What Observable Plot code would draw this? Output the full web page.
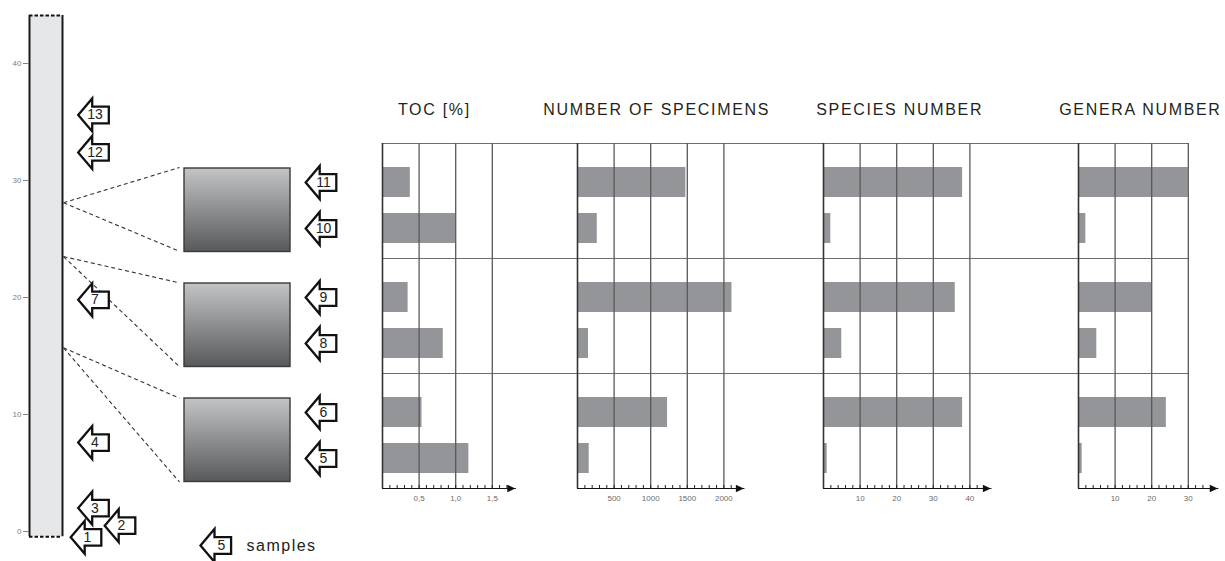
<!DOCTYPE html>
<html>
<head>
<meta charset="utf-8">
<script src="https://cdn.jsdelivr.net/npm/d3@7"></script>
<script src="https://cdn.jsdelivr.net/npm/@observablehq/plot@0.6"></script>
<style>
  html, body { margin: 0; padding: 0; background: #fff; }
  #figure { position: relative; width: 1225px; height: 561px; overflow: hidden; }
  #figure svg { position: absolute; }
</style>
</head>
<body>
<div id="figure"></div>
<script>
// ---------- data ----------
// borehole log: depth axis (m) and the logged section
const depthTicks = [0, 10, 20, 30, 40];
const columnDepths = [-0.45, 44.1];

// samples marked along the log
const loggedSamples = ["13", "12", "7", "4", "3", "2", "1"];
const loggedDepths = [35.6, 32.4, 19.8, 7.6, 2.0, 0.5, -0.5];

// enlarged intervals and where they sit in the log (m)
const intervals = ["top", "middle", "bottom"];
const intervalDepths = [28.1, 23.5, 15.7];

// studied samples, top to bottom, and the interval each comes from
const studiedSamples = ["11", "10", "9", "8", "6", "5"];
const studiedIntervals = ["top", "top", "middle", "middle", "bottom", "bottom"];

// measured parameters per studied sample
const panelTitles = ["TOC [%]", "NUMBER OF SPECIMENS", "SPECIES NUMBER", "GENERA NUMBER"];
const tocValues = [0.38, 1.0, 0.35, 0.83, 0.54, 1.18];
const specimenValues = [1480, 270, 2110, 150, 1230, 160];
const speciesValues = [38, 2, 36, 5, 38, 1];
const generaValues = [30, 2, 20, 5, 24, 1];

// axis ticks per panel
const tocTicks = [0.5, 1.0, 1.5];
const specimenTicks = [500, 1000, 1500, 2000];
const speciesTicks = [10, 20, 30, 40];
const generaTicks = [10, 20, 30];

// legend
const legendSample = "5";
const legendText = "samples";

// ---------- layout ----------
const layout = {
  height: 561,
  frameTop: 142,
  axisLine: 488,
  depthRange: [531, 63],          // pixel rows of depth 0 and 40
  column: [29, 62],
  loggedLane: 93,
  loggedShift: {"1": -7.5, "2": 26.5},
  box: [184, 290],
  boxInset: [25, 6.5],
  linkEnd: 179,
  pointerLane: 320.5,
  panelLeft: [382, 577, 823, 1078],
  gridStep: 36.6,
  arrowOvershoot: [23, 20, 21, 29.5],
  titleShift: [-3, 6, 3, 7],
  titleRise: 40
};

const font = '"Liberation Sans", Arial, Helvetica, sans-serif';
const figure = document.getElementById("figure");
function place(svg, left, top) {
  svg.style.left = left + "px";
  svg.style.top = top + "px";
  figure.append(svg);
}

// left-pointing block arrow, centred on its bounding box
const arrowSymbol = {
  draw(ctx) {
    ctx.moveTo(-15.3, 0);
    ctx.lineTo(-1.3, -16.5);
    ctx.lineTo(-1.3, -8.3);
    ctx.lineTo(15.3, -8.3);
    ctx.lineTo(15.3, 8.3);
    ctx.lineTo(-1.3, 8.3);
    ctx.lineTo(-1.3, 16.5);
    ctx.closePath();
  }
};
// filled arrowhead with its tip at the origin, pointing right
const headSymbol = {
  draw(ctx) {
    ctx.moveTo(0, 0);
    ctx.lineTo(-8, -3.8);
    ctx.lineTo(-8, 3.8);
    ctx.closePath();
  }
};
const arrowStyle = {symbol: arrowSymbol, fill: "white", stroke: "#111", strokeWidth: 2.3, strokeLinejoin: "miter"};

// interval rows shared by boxes and panels
const sectionBand = d3.scaleBand(intervals, [layout.frameTop, layout.axisLine]).padding(0);
const slots = ["first", "second"];
const rowY = {type: "band", domain: slots, paddingInner: 0.357, paddingOuter: 0.413, align: 0.62, axis: null};
const rowFy = {domain: intervals, padding: 0, axis: null};
const rows = studiedSamples.map((sample, j) => ({
  sample,
  interval: studiedIntervals[j],
  slot: slots[studiedIntervals.slice(0, j).filter((v) => v === studiedIntervals[j]).length]
}));

// ---------- borehole log ----------
const depthScale = Plot.scale({y: {domain: [0, 40], range: layout.depthRange}});
const connectors = intervals.flatMap((id, k) => {
  const top = sectionBand(id) + layout.boxInset[0];
  const bottom = sectionBand(id) + sectionBand.bandwidth() - layout.boxInset[1];
  return [top, bottom].map((py) => ({from: intervalDepths[k], to: depthScale.invert(py)}));
});
const logged = loggedSamples.map((sample, k) => ({
  sample,
  depth: loggedDepths[k],
  lane: layout.loggedLane + (layout.loggedShift[sample] ?? 0)
}));

place(Plot.plot({
  width: 380,
  height: layout.height,
  marginLeft: layout.column[0], marginRight: 0, marginTop: 0, marginBottom: 0,
  x: {type: "identity", axis: null},
  y: {domain: [0, 40], range: layout.depthRange, axis: null},
  style: {background: "transparent", overflow: "visible", fontFamily: font},
  marks: [
    Plot.rect([columnDepths], {x1: layout.column[0], x2: layout.column[1], y1: (d) => d[0], y2: (d) => d[1], fill: "#e6e7e8"}),
    Plot.ruleX(layout.column, {x: (d) => d, y1: columnDepths[0], y2: columnDepths[1], stroke: "#1a1a1a", strokeWidth: 2}),
    Plot.ruleY(columnDepths, {y: (d) => d, x1: layout.column[0], x2: layout.column[1], stroke: "#111", strokeWidth: 2, strokeDasharray: "3.5,2"}),
    Plot.axisY(depthTicks, {anchor: "left", tickSize: 6, tickPadding: 2, fontSize: 8, color: "#808080", label: null}),
    Plot.link(connectors, {x1: layout.column[1] + 1, x2: layout.linkEnd, y1: "from", y2: "to", stroke: "#333", strokeWidth: 1.1, strokeDasharray: "4,3"}),
    Plot.dot(logged, {x: "lane", y: "depth", ...arrowStyle}),
    Plot.text(logged, {x: "lane", y: "depth", dx: 1.5, text: "sample", fontSize: 14, fill: "#222"})
  ]
}), 0, 0);

// ---------- enlarged intervals and their sample pointers ----------
const boxes = Plot.plot({
  width: 380,
  height: layout.height,
  marginLeft: 0, marginRight: 0, marginTop: layout.frameTop, marginBottom: layout.height - layout.axisLine,
  x: {type: "identity", axis: null},
  y: rowY,
  fy: rowFy,
  style: {background: "transparent", overflow: "visible", fontFamily: font},
  marks: [
    Plot.rect(intervals, {fy: (d) => d, x1: layout.box[0], x2: layout.box[1], insetTop: layout.boxInset[0], insetBottom: layout.boxInset[1], fill: "url(#boxShade)", stroke: "#3a3a3a", strokeWidth: 1.4}),
    Plot.dot(rows, {fy: "interval", y: "slot", x: layout.pointerLane, ...arrowStyle}),
    Plot.text(rows, {fy: "interval", y: "slot", x: layout.pointerLane, dx: 2.5, text: "sample", fontSize: 14, fill: "#222"})
  ]
});
const grad = d3.select(boxes).insert("defs", ":first-child")
  .append("linearGradient").attr("id", "boxShade")
  .attr("x1", 0).attr("y1", 0).attr("x2", 0).attr("y2", 1);
grad.append("stop").attr("offset", 0).attr("stop-color", "#c3c4c6");
grad.append("stop").attr("offset", 1).attr("stop-color", "#58595b");
place(boxes, 0, 0);

// ---------- parameter panels ----------
const panelValues = [tocValues, specimenValues, speciesValues, generaValues];
const panelTicks = [tocTicks, specimenTicks, speciesTicks, generaTicks];
const tickFormats = [(d) => d3.format(".1f")(d).replace(".", ","), d3.format("d"), d3.format("d"), d3.format("d")];

panelTitles.forEach((title, i) => {
  const left = layout.panelLeft[i];
  const ticks = panelTicks[i];
  const max = ticks[ticks.length - 1];
  const gridWidth = layout.gridStep * ticks.length;
  const mL = 12;
  const last = i === panelTitles.length - 1;
  const frameRight = last ? left + gridWidth : layout.panelLeft[i + 1];
  const mR = last ? 50 : 0;
  const x = {domain: [0, max], range: [mL, mL + gridWidth], axis: null};
  const data = rows.map((r, j) => ({...r, value: panelValues[i][j]}));

  place(Plot.plot({
    width: mL + (frameRight - left) + mR,
    height: layout.height,
    marginLeft: mL, marginRight: mR, marginTop: layout.frameTop, marginBottom: layout.height - layout.axisLine,
    x,
    y: rowY,
    fy: rowFy,
    style: {background: "transparent", overflow: "visible", fontFamily: font, letterSpacing: "1.7px"},
    marks: [
      Plot.barX(data, {fy: "interval", y: "slot", x: "value", fill: "#939598"}),
      Plot.frame({anchor: "top", stroke: "#6e6e6e", strokeWidth: 1.2}),
      Plot.ruleX(ticks, {stroke: "#595959", strokeWidth: 1.3}),
      Plot.ruleX([0], {stroke: "#333", strokeWidth: 1.6}),
      Plot.text([{interval: intervals[0], title}], {
        fy: "interval", x: max / 2, frameAnchor: "top", dx: layout.titleShift[i], dy: -layout.titleRise,
        text: "title", fontSize: 16, fill: "#231f20"
      })
    ]
  }), left - mL, 0);

  // value axis with minor ticks and an arrowhead
  const overshoot = layout.arrowOvershoot[i];
  const minorStep = ticks[0] / 5;
  const minorPx = layout.gridStep / 5;
  const minor = d3.range(1, Math.floor((gridWidth + overshoot - 8) / minorPx) + 1).map((k) => k * minorStep);
  const axisTop = 6;
  const axisHeight = 26;
  const axisWidth = mL + gridWidth + overshoot + 10;
  place(Plot.plot({
    width: axisWidth,
    height: axisHeight,
    marginLeft: mL, marginRight: 10, marginTop: axisTop, marginBottom: axisHeight - axisTop,
    x,
    style: {background: "transparent", overflow: "visible", fontFamily: font},
    marks: [
      Plot.frame({anchor: "top", stroke: "#111", strokeWidth: 1.2}),
      Plot.tickX(minor, {x: (d) => d, insetTop: -3, stroke: "#222", strokeWidth: 1}),
      Plot.dot([max], {frameAnchor: "top-right", symbol: headSymbol, fill: "#111", stroke: "none"}),
      Plot.text(ticks, {x: (d) => d, frameAnchor: "top", dy: 7, text: tickFormats[i], fontSize: 8, fill: "#6a6a6a"})
    ]
  }), left - mL, layout.axisLine - axisTop);
});

// ---------- legend ----------
place(Plot.plot({
  width: 150,
  height: 34,
  margin: 0,
  style: {background: "transparent", overflow: "visible", fontFamily: font, letterSpacing: "1.5px"},
  marks: [
    Plot.dot([legendSample], {frameAnchor: "left", dx: 30.3, ...arrowStyle}),
    Plot.text([legendSample], {frameAnchor: "left", dx: 32, text: (d) => d, fontSize: 14, fill: "#222"}),
    Plot.text([legendText], {frameAnchor: "left", dx: 61, text: (d) => d, textAnchor: "start", fontSize: 16, fill: "#222"})
  ]
}), 185, 528);
</script>
</body>
</html>
